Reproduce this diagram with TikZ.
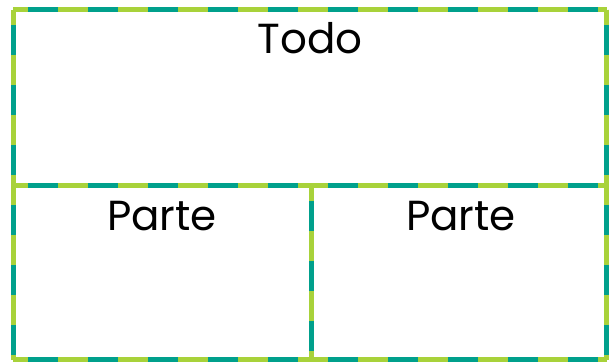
\documentclass[tikz,border=0pt]{standalone}
\usepackage{fontspec}
\setmainfont{Poppins}
\definecolor{teal1}{HTML}{00A08C}
\definecolor{lime1}{HTML}{A8D23A}
\tikzset{
  base/.style={draw=teal1, line width=5pt},
  over/.style={draw=lime1, line width=5pt, dash pattern=on 30pt off 30pt, dash phase=15pt},
  lbl/.style={font=\fontsize{42}{46}\selectfont, text=black, inner sep=0pt, anchor=base}
}
\begin{document}
\begin{tikzpicture}[x=1pt,y=-1pt]
\useasboundingbox (0,0) rectangle (609,362);
\fill[white] (0,0) rectangle (609,362);
\coordinate (tl) at (13,9.5);
\coordinate (tr) at (606.5,9.5);
\coordinate (br) at (606.5,359.5);
\coordinate (bl) at (13,359.5);
\coordinate (ml) at (13,185.5);
\coordinate (mr) at (606.5,185.5);
\coordinate (mt) at (311,185.5);
\coordinate (mb) at (311,359.5);
\foreach \s in {base,over}{
  \draw[\s] (tl) -- (tr);
  \draw[\s] (tl) -- (bl);
  \draw[\s] (tr) -- (br);
  \draw[\s] (bl) -- (br);
  \draw[\s] (ml) -- (mr);
  \draw[\s] (mt) -- (mb);
}
\node[lbl] (todo) at (310,53) {Todo};
\node[lbl] (p1) at (162,230) {Parte};
\node[lbl] (p2) at (461,230) {Parte};
\end{tikzpicture}
\end{document}
